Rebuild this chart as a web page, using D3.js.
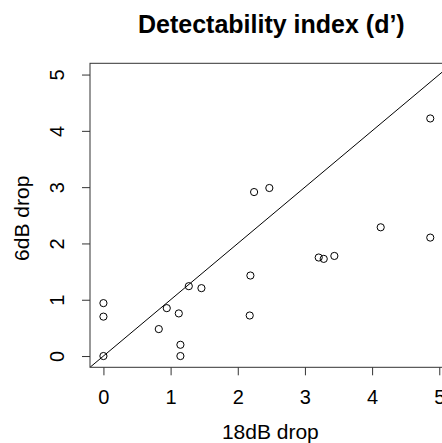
<!DOCTYPE html>
<html><head><meta charset="utf-8">
<script src="https://cdn.jsdelivr.net/npm/d3@7"></script>
<style>body{margin:0;background:#fff}svg{display:block}</style>
</head><body>
<script>
const drop18 = [4.866, 2.243, 2.47, 4.128, 4.866, 3.205, 3.28, 3.438, 2.188, 1.271, 1.459, 0, 0, 0.943, 1.122, 2.178, 0.824, 1.146, 1.146, 0];
const drop6  = [4.22, 2.913, 2.985, 2.287, 2.104, 1.75, 1.726, 1.778, 1.43, 1.241, 1.206, 0.94, 0.70, 0.851, 0.757, 0.72, 0.479, 0.20, 0, 0];
const xTicks = [0, 1, 2, 3, 4, 5];
const yTicks = [0, 1, 2, 3, 4, 5];
const title = "Detectability index (d’)";
const xLabel = "18dB drop";
const yLabel = "6dB drop";

const W = 442, H = 443;
const pL = 90, pT = 63.3, pR = 452.7, pB = 367.3;
const font = "'Liberation Sans', Arial, Helvetica, sans-serif";

const svg = d3.select("body").append("svg").attr("width", W).attr("height", H);
const x = d3.scaleLinear().domain([-0.2, 5.2]).range([pL, pR]);
const y = d3.scaleLinear().domain([-0.2, 5.2]).range([pB, pT]);

svg.append("defs").append("clipPath").attr("id", "clip")
  .append("rect").attr("x", pL).attr("y", pT).attr("width", pR - pL).attr("height", pB - pT);

// diagonal y = x
svg.append("line").attr("clip-path", "url(#clip)")
  .attr("x1", x(-0.2)).attr("y1", y(-0.2)).attr("x2", x(5.2)).attr("y2", y(5.2))
  .attr("stroke", "#000").attr("stroke-width", 1);

// points
svg.append("g").selectAll("circle").data(drop18.map((d, i) => [d, drop6[i]])).join("circle")
  .attr("cx", d => x(d[0])).attr("cy", d => y(d[1])).attr("r", 3.6)
  .attr("fill", "none").attr("stroke", "#000").attr("stroke-width", 1);

// box
svg.append("rect").attr("x", pL).attr("y", pT).attr("width", pR - pL).attr("height", pB - pT)
  .attr("fill", "none").attr("stroke", "#333").attr("stroke-width", 1);

// x axis
const gx = svg.append("g").attr("transform", `translate(0,${pB})`)
  .call(d3.axisBottom(x).tickValues(xTicks).tickSize(8).tickFormat(d3.format("d")));
gx.select(".domain").remove();
gx.selectAll("line").attr("stroke", "#333");
gx.selectAll("text").attr("font-family", font).attr("font-size", 20).attr("fill", "#000")
  .attr("y", 36.5).attr("dy", null);

// y axis
const gy = svg.append("g").attr("transform", `translate(${pL},0)`)
  .call(d3.axisLeft(y).tickValues(yTicks).tickSize(8).tickFormat(d3.format("d")));
gy.select(".domain").remove();
gy.selectAll("line").attr("stroke", "#333");
gy.selectAll("text")
  .attr("font-family", font).attr("font-size", 20).attr("fill", "#000")
  .attr("x", null).attr("dy", null)
  .attr("text-anchor", "middle")
  .attr("transform", "translate(-26,0) rotate(-90)");

// title
svg.append("text").attr("x", (pL + pR) / 2).attr("y", 33).attr("text-anchor", "middle")
  .attr("font-family", font).attr("font-weight", "bold").attr("font-size", 25).text(title);

// x label
svg.append("text").attr("x", (pL + pR) / 2 - 1).attr("y", 439).attr("text-anchor", "middle")
  .attr("font-family", font).attr("font-size", 21).text(xLabel);

// y label
svg.append("text").attr("transform", `translate(29,${(pT + pB) / 2 + 3}) rotate(-90)`)
  .attr("text-anchor", "middle").attr("font-family", font).attr("font-size", 21).text(yLabel);
</script>
</body></html>
